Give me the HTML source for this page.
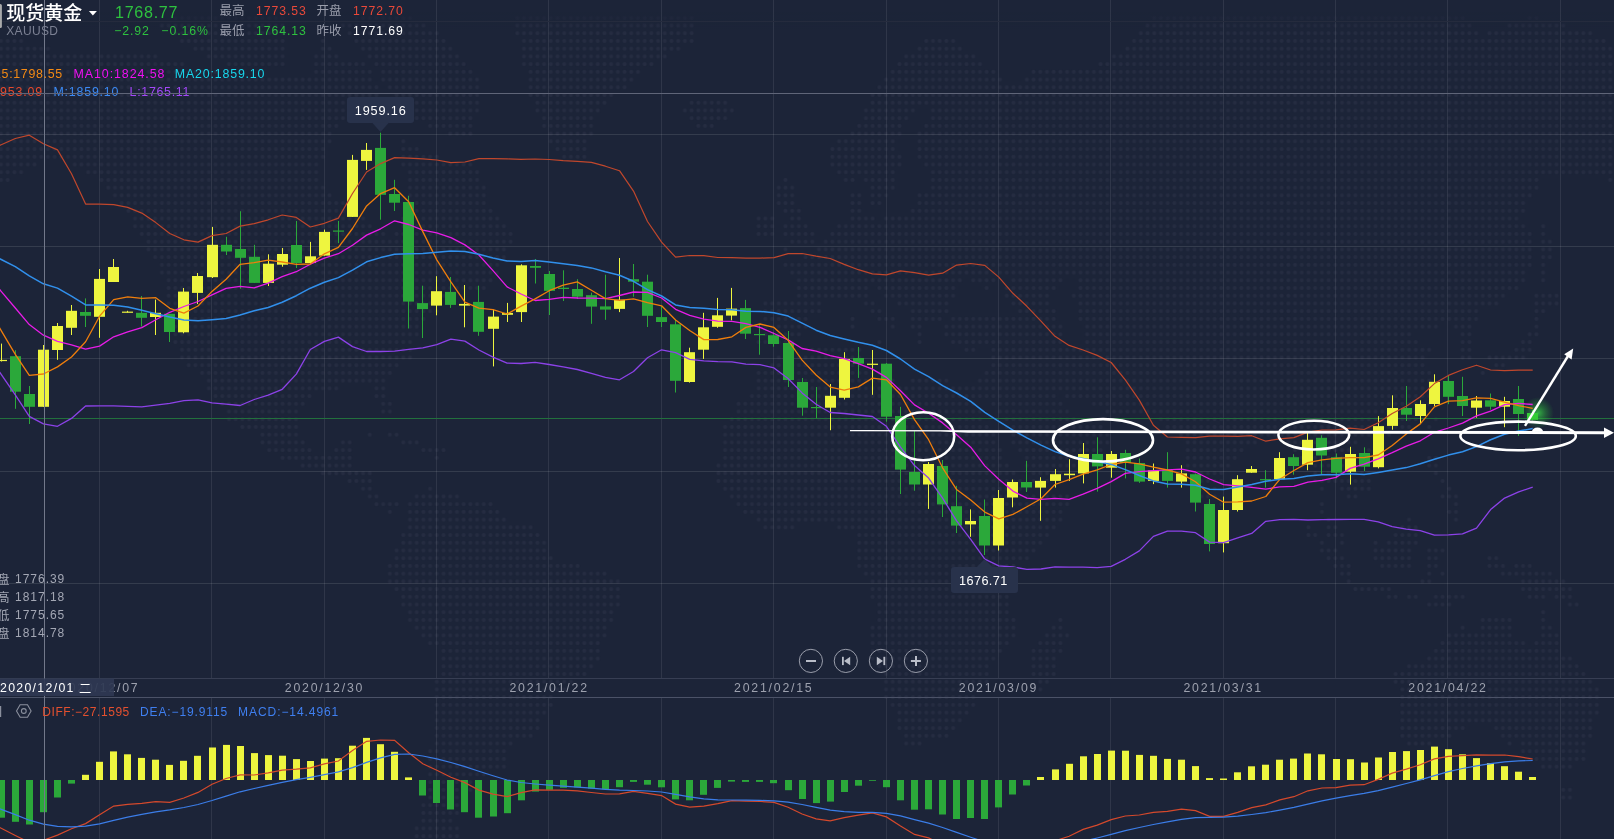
<!DOCTYPE html>
<html><head><meta charset="utf-8"><style>
html,body{margin:0;padding:0;}
body{width:1614px;height:839px;overflow:hidden;background:#1c2438;position:relative;font-family:"Liberation Sans","Noto Sans CJK SC",sans-serif;}
svg{position:absolute;left:0;top:0;will-change:transform;}
text{font-family:"Liberation Sans","Noto Sans CJK SC",sans-serif;}
.t{position:absolute;white-space:nowrap;line-height:1;}
</style></head><body>
<svg width="1614" height="839" viewBox="0 0 1614 839">
<defs><pattern id="dots" x="-2.35" y="-1.5" width="6.705" height="7.72" patternUnits="userSpaceOnUse"><circle cx="3.35" cy="3.86" r="2.0" fill="#252c41"/></pattern></defs>
<path d="M205.5 -1.5H232.3v7.72H205.5zM386.5 -1.5H393.2v7.72H386.5zM507.2 -1.5H701.7v7.72H507.2zM1231.4 -1.5H1452.6v7.72H1231.4zM185.4 6.2H286.0v7.72H185.4zM366.4 6.2H406.7v7.72H366.4zM507.2 6.2H701.7v7.72H507.2zM1157.6 6.2H1171.0v7.72H1157.6zM1224.7 6.2H1459.3v7.72H1224.7zM172.0 13.9H286.0v7.72H172.0zM353.0 13.9H413.4v7.72H353.0zM513.9 13.9H695.0v7.72H513.9zM1150.9 13.9H1466.0v7.72H1150.9zM1526.4 13.9H1539.8v7.72H1526.4zM158.6 21.7H286.0v7.72H158.6zM339.6 21.7H426.8v7.72H339.6zM513.9 21.7H695.0v7.72H513.9zM1144.2 21.7H1472.7v7.72H1144.2zM1506.3 21.7H1566.6v7.72H1506.3zM172.0 29.4H286.0v7.72H172.0zM346.3 29.4H440.2v7.72H346.3zM513.9 29.4H695.0v7.72H513.9zM1137.5 29.4H1479.4v7.72H1137.5zM1486.2 29.4H1593.4v7.72H1486.2zM-2.4 37.1H24.5v7.72H-2.4zM178.7 37.1H286.0v7.72H178.7zM319.5 37.1H326.2v7.72H319.5zM353.0 37.1H446.9v7.72H353.0zM520.6 37.1H695.0v7.72H520.6zM922.9 37.1H956.5v7.72H922.9zM1130.8 37.1H1606.8v7.72H1130.8zM-2.4 44.8H51.3v7.72H-2.4zM192.1 44.8H286.0v7.72H192.1zM319.5 44.8H332.9v7.72H319.5zM359.7 44.8H453.6v7.72H359.7zM520.6 44.8H681.6v7.72H520.6zM916.2 44.8H963.2v7.72H916.2zM1124.1 44.8H1620.3v7.72H1124.1zM-2.4 52.5H158.6v7.72H-2.4zM205.5 52.5H286.0v7.72H205.5zM312.8 52.5H339.6v7.72H312.8zM366.4 52.5H460.3v7.72H366.4zM520.6 52.5H668.1v7.72H520.6zM902.8 52.5H976.6v7.72H902.8zM1110.7 52.5H1620.3v7.72H1110.7zM-2.4 60.3H185.4v7.72H-2.4zM225.6 60.3H286.0v7.72H225.6zM312.8 60.3H366.4v7.72H312.8zM373.1 60.3H467.0v7.72H373.1zM520.6 60.3H654.7v7.72H520.6zM896.1 60.3H983.3v7.72H896.1zM1097.3 60.3H1620.3v7.72H1097.3zM-2.4 68.0H218.9v7.72H-2.4zM312.8 68.0H373.1v7.72H312.8zM379.8 68.0H473.7v7.72H379.8zM527.3 68.0H641.3v7.72H527.3zM889.4 68.0H996.7v7.72H889.4zM1030.2 68.0H1620.3v7.72H1030.2zM-2.4 75.7H373.1v7.72H-2.4zM379.8 75.7H480.4v7.72H379.8zM527.3 75.7H634.6v7.72H527.3zM882.7 75.7H1003.4v7.72H882.7zM1023.5 75.7H1620.3v7.72H1023.5zM-2.4 83.4H379.8v7.72H-2.4zM386.5 83.4H480.4v7.72H386.5zM527.3 83.4H627.9v7.72H527.3zM876.0 83.4H1620.3v7.72H876.0zM-2.4 91.1H379.8v7.72H-2.4zM393.2 91.1H480.4v7.72H393.2zM527.3 91.1H614.5v7.72H527.3zM869.3 91.1H1620.3v7.72H869.3zM-2.4 98.9H373.1v7.72H-2.4zM393.2 98.9H480.4v7.72H393.2zM534.0 98.9H607.8v7.72H534.0zM688.3 98.9H728.5v7.72H688.3zM869.3 98.9H1620.3v7.72H869.3zM-2.4 106.6H366.4v7.72H-2.4zM399.9 106.6H480.4v7.72H399.9zM534.0 106.6H601.1v7.72H534.0zM681.6 106.6H735.2v7.72H681.6zM862.6 106.6H916.2v7.72H862.6zM929.6 106.6H1620.3v7.72H929.6zM-2.4 114.3H359.7v7.72H-2.4zM413.4 114.3H473.7v7.72H413.4zM540.8 114.3H594.4v7.72H540.8zM688.3 114.3H728.5v7.72H688.3zM862.6 114.3H909.5v7.72H862.6zM929.6 114.3H1620.3v7.72H929.6zM-2.4 122.0H339.6v7.72H-2.4zM426.8 122.0H473.7v7.72H426.8zM540.8 122.0H594.4v7.72H540.8zM695.0 122.0H715.1v7.72H695.0zM855.9 122.0H902.8v7.72H855.9zM922.9 122.0H1620.3v7.72H922.9zM-2.4 129.7H332.9v7.72H-2.4zM446.9 129.7H473.7v7.72H446.9zM547.5 129.7H594.4v7.72H547.5zM849.2 129.7H902.8v7.72H849.2zM916.2 129.7H1620.3v7.72H916.2zM-2.4 137.5H332.9v7.72H-2.4zM399.9 137.5H406.7v7.72H399.9zM547.5 137.5H587.7v7.72H547.5zM835.8 137.5H896.1v7.72H835.8zM916.2 137.5H1620.3v7.72H916.2zM-2.4 145.2H326.2v7.72H-2.4zM399.9 145.2H420.1v7.72H399.9zM554.2 145.2H587.7v7.72H554.2zM829.1 145.2H896.1v7.72H829.1zM916.2 145.2H1620.3v7.72H916.2zM-2.4 152.9H326.2v7.72H-2.4zM399.9 152.9H440.2v7.72H399.9zM560.9 152.9H587.7v7.72H560.9zM829.1 152.9H902.8v7.72H829.1zM916.2 152.9H1620.3v7.72H916.2zM-2.4 160.6H37.9v7.72H-2.4zM71.4 160.6H319.5v7.72H71.4zM399.9 160.6H473.7v7.72H399.9zM829.1 160.6H902.8v7.72H829.1zM922.9 160.6H1620.3v7.72H922.9zM-2.4 168.3H24.5v7.72H-2.4zM84.8 168.3H319.5v7.72H84.8zM406.7 168.3H480.4v7.72H406.7zM835.8 168.3H896.1v7.72H835.8zM929.6 168.3H1620.3v7.72H929.6zM-2.4 176.1H11.1v7.72H-2.4zM98.2 176.1H319.5v7.72H98.2zM406.7 176.1H480.4v7.72H406.7zM782.1 176.1H788.8v7.72H782.1zM842.5 176.1H855.9v7.72H842.5zM862.6 176.1H896.1v7.72H862.6zM929.6 176.1H1539.8v7.72H929.6zM1606.9 176.1H1620.3v7.72H1606.9zM104.9 183.8H326.2v7.72H104.9zM406.7 183.8H487.1v7.72H406.7zM775.4 183.8H795.5v7.72H775.4zM869.3 183.8H896.1v7.72H869.3zM929.6 183.8H1539.8v7.72H929.6zM1613.6 183.8H1620.3v7.72H1613.6zM111.6 191.5H332.9v7.72H111.6zM406.7 191.5H487.1v7.72H406.7zM775.4 191.5H795.5v7.72H775.4zM849.2 191.5H862.6v7.72H849.2zM869.3 191.5H889.4v7.72H869.3zM916.2 191.5H1533.1v7.72H916.2zM1613.6 191.5H1620.3v7.72H1613.6zM118.3 199.2H346.3v7.72H118.3zM406.7 199.2H487.1v7.72H406.7zM775.4 199.2H795.5v7.72H775.4zM849.2 199.2H862.6v7.72H849.2zM869.3 199.2H882.7v7.72H869.3zM916.2 199.2H1526.4v7.72H916.2zM1613.6 199.2H1620.3v7.72H1613.6zM125.0 206.9H359.7v7.72H125.0zM406.7 206.9H493.8v7.72H406.7zM782.1 206.9H802.2v7.72H782.1zM849.2 206.9H862.6v7.72H849.2zM909.5 206.9H1526.4v7.72H909.5zM1613.6 206.9H1620.3v7.72H1613.6zM131.8 214.7H366.4v7.72H131.8zM399.9 214.7H500.5v7.72H399.9zM755.3 214.7H775.4v7.72H755.3zM788.8 214.7H802.2v7.72H788.8zM849.2 214.7H876.0v7.72H849.2zM882.7 214.7H1519.7v7.72H882.7zM1613.6 214.7H1620.3v7.72H1613.6zM131.8 222.4H373.1v7.72H131.8zM399.9 222.4H507.2v7.72H399.9zM755.3 222.4H775.4v7.72H755.3zM782.1 222.4H809.0v7.72H782.1zM835.8 222.4H1526.4v7.72H835.8zM1539.8 222.4H1546.5v7.72H1539.8zM1613.6 222.4H1620.3v7.72H1613.6zM138.5 230.1H386.5v7.72H138.5zM393.2 230.1H513.9v7.72H393.2zM755.3 230.1H775.4v7.72H755.3zM782.1 230.1H815.7v7.72H782.1zM829.1 230.1H1533.1v7.72H829.1zM1539.8 230.1H1546.5v7.72H1539.8zM1613.6 230.1H1620.3v7.72H1613.6zM145.2 237.8H513.9v7.72H145.2zM788.8 237.8H815.7v7.72H788.8zM822.4 237.8H1533.1v7.72H822.4zM1539.8 237.8H1553.2v7.72H1539.8zM1613.6 237.8H1620.3v7.72H1613.6zM145.2 245.5H507.2v7.72H145.2zM782.1 245.5H788.8v7.72H782.1zM815.7 245.5H1533.1v7.72H815.7zM1539.8 245.5H1553.2v7.72H1539.8zM151.9 253.3H507.2v7.72H151.9zM802.2 253.3H1533.1v7.72H802.2zM1539.8 253.3H1553.2v7.72H1539.8zM158.6 261.0H500.5v7.72H158.6zM782.1 261.0H1533.1v7.72H782.1zM1539.8 261.0H1546.5v7.72H1539.8zM158.6 268.7H500.5v7.72H158.6zM788.8 268.7H1526.4v7.72H788.8zM1539.8 268.7H1546.5v7.72H1539.8zM165.3 276.4H493.8v7.72H165.3zM795.5 276.4H963.2v7.72H795.5zM969.9 276.4H996.7v7.72H969.9zM1010.1 276.4H1063.7v7.72H1010.1zM1077.2 276.4H1526.4v7.72H1077.2zM1539.8 276.4H1546.5v7.72H1539.8zM165.3 284.1H487.1v7.72H165.3zM795.5 284.1H869.3v7.72H795.5zM876.0 284.1H956.5v7.72H876.0zM983.3 284.1H990.0v7.72H983.3zM1003.4 284.1H1057.0v7.72H1003.4zM1077.2 284.1H1519.7v7.72H1077.2zM165.3 291.9H453.6v7.72H165.3zM795.5 291.9H869.3v7.72H795.5zM882.7 291.9H956.5v7.72H882.7zM1003.4 291.9H1050.3v7.72H1003.4zM1070.5 291.9H1506.3v7.72H1070.5zM1533.1 291.9H1559.9v7.72H1533.1zM165.3 299.6H440.2v7.72H165.3zM762.0 299.6H822.4v7.72H762.0zM862.6 299.6H876.0v7.72H862.6zM896.1 299.6H949.8v7.72H896.1zM1010.1 299.6H1050.3v7.72H1010.1zM1077.2 299.6H1499.6v7.72H1077.2zM1533.1 299.6H1559.9v7.72H1533.1zM165.3 307.3H440.2v7.72H165.3zM762.0 307.3H822.4v7.72H762.0zM869.3 307.3H882.7v7.72H869.3zM909.5 307.3H949.8v7.72H909.5zM1016.8 307.3H1057.0v7.72H1016.8zM1077.2 307.3H1479.4v7.72H1077.2zM1533.1 307.3H1546.5v7.72H1533.1zM165.3 315.0H426.8v7.72H165.3zM762.0 315.0H809.0v7.72H762.0zM849.2 315.0H855.9v7.72H849.2zM876.0 315.0H896.1v7.72H876.0zM909.5 315.0H943.1v7.72H909.5zM949.8 315.0H1057.0v7.72H949.8zM1077.2 315.0H1479.4v7.72H1077.2zM1533.1 315.0H1539.8v7.72H1533.1zM165.3 322.7H420.1v7.72H165.3zM762.0 322.7H809.0v7.72H762.0zM849.2 322.7H855.9v7.72H849.2zM889.4 322.7H896.1v7.72H889.4zM909.5 322.7H922.9v7.72H909.5zM943.1 322.7H1063.7v7.72H943.1zM1083.9 322.7H1439.2v7.72H1083.9zM1452.6 322.7H1472.7v7.72H1452.6zM1533.1 322.7H1539.8v7.72H1533.1zM172.0 330.5H420.1v7.72H172.0zM762.0 330.5H802.2v7.72H762.0zM916.2 330.5H922.9v7.72H916.2zM943.1 330.5H1063.7v7.72H943.1zM1083.9 330.5H1412.4v7.72H1083.9zM1459.3 330.5H1472.7v7.72H1459.3zM1526.4 330.5H1539.8v7.72H1526.4zM172.0 338.2H413.4v7.72H172.0zM755.3 338.2H795.5v7.72H755.3zM876.0 338.2H882.7v7.72H876.0zM916.2 338.2H922.9v7.72H916.2zM949.8 338.2H1063.7v7.72H949.8zM1083.9 338.2H1419.1v7.72H1083.9zM1459.3 338.2H1472.7v7.72H1459.3zM1519.7 338.2H1533.1v7.72H1519.7zM178.7 345.9H413.4v7.72H178.7zM809.0 345.9H862.6v7.72H809.0zM963.2 345.9H976.6v7.72H963.2zM990.0 345.9H1432.5v7.72H990.0zM1459.3 345.9H1472.7v7.72H1459.3zM1513.0 345.9H1533.1v7.72H1513.0zM178.7 353.6H413.4v7.72H178.7zM775.4 353.6H862.6v7.72H775.4zM990.0 353.6H1425.8v7.72H990.0zM1459.3 353.6H1472.7v7.72H1459.3zM1486.2 353.6H1526.4v7.72H1486.2zM185.4 361.3H399.9v7.72H185.4zM768.7 361.3H862.6v7.72H768.7zM990.0 361.3H1425.8v7.72H990.0zM1492.9 361.3H1506.3v7.72H1492.9zM198.8 369.1H393.2v7.72H198.8zM755.3 369.1H882.7v7.72H755.3zM983.3 369.1H1432.5v7.72H983.3zM1479.5 369.1H1486.2v7.72H1479.5zM205.5 376.8H386.5v7.72H205.5zM755.3 376.8H896.1v7.72H755.3zM909.5 376.8H949.8v7.72H909.5zM976.6 376.8H1432.5v7.72H976.6zM205.5 384.5H339.6v7.72H205.5zM373.1 384.5H386.5v7.72H373.1zM755.3 384.5H1439.2v7.72H755.3zM212.2 392.2H312.8v7.72H212.2zM373.1 392.2H386.5v7.72H373.1zM748.6 392.2H1057.0v7.72H748.6zM1063.7 392.2H1432.5v7.72H1063.7zM218.9 399.9H306.1v7.72H218.9zM379.8 399.9H393.2v7.72H379.8zM735.2 399.9H976.6v7.72H735.2zM990.0 399.9H1063.7v7.72H990.0zM1090.6 399.9H1432.5v7.72H1090.6zM225.6 407.7H299.4v7.72H225.6zM379.8 407.7H393.2v7.72H379.8zM735.2 407.7H983.3v7.72H735.2zM996.7 407.7H1070.4v7.72H996.7zM1104.0 407.7H1425.8v7.72H1104.0zM225.6 415.4H299.4v7.72H225.6zM728.5 415.4H983.3v7.72H728.5zM1003.4 415.4H1077.1v7.72H1003.4zM1157.6 415.4H1419.1v7.72H1157.6zM1432.5 415.4H1439.2v7.72H1432.5zM239.0 423.1H299.4v7.72H239.0zM721.8 423.1H990.0v7.72H721.8zM1003.4 423.1H1104.0v7.72H1003.4zM1164.3 423.1H1412.4v7.72H1164.3zM1425.8 423.1H1432.5v7.72H1425.8zM259.1 430.8H299.4v7.72H259.1zM366.4 430.8H373.1v7.72H366.4zM386.5 430.8H399.9v7.72H386.5zM721.8 430.8H996.7v7.72H721.8zM1010.1 430.8H1110.7v7.72H1010.1zM1177.7 430.8H1392.3v7.72H1177.7zM259.1 438.5H306.1v7.72H259.1zM339.6 438.5H353.0v7.72H339.6zM399.9 438.5H420.1v7.72H399.9zM721.8 438.5H996.7v7.72H721.8zM1010.1 438.5H1110.7v7.72H1010.1zM1184.4 438.5H1258.2v7.72H1184.4zM1285.0 438.5H1358.8v7.72H1285.0zM265.8 446.3H312.8v7.72H265.8zM332.9 446.3H353.0v7.72H332.9zM420.1 446.3H446.9v7.72H420.1zM721.8 446.3H1003.4v7.72H721.8zM1016.8 446.3H1104.0v7.72H1016.8zM1184.4 446.3H1244.8v7.72H1184.4zM1291.7 446.3H1352.1v7.72H1291.7zM1365.5 446.3H1378.9v7.72H1365.5zM279.3 454.0H353.0v7.72H279.3zM433.5 454.0H440.2v7.72H433.5zM721.8 454.0H1003.4v7.72H721.8zM1023.5 454.0H1097.3v7.72H1023.5zM1184.4 454.0H1238.1v7.72H1184.4zM1291.7 454.0H1358.8v7.72H1291.7zM1425.8 454.0H1439.2v7.72H1425.8zM299.4 461.7H353.0v7.72H299.4zM715.1 461.7H1010.1v7.72H715.1zM1023.5 461.7H1083.9v7.72H1023.5zM1184.4 461.7H1231.4v7.72H1184.4zM1291.7 461.7H1305.1v7.72H1291.7zM1311.8 461.7H1365.5v7.72H1311.8zM1425.8 461.7H1439.2v7.72H1425.8zM319.5 469.4H373.1v7.72H319.5zM715.1 469.4H1016.8v7.72H715.1zM1030.2 469.4H1063.7v7.72H1030.2zM1191.1 469.4H1224.7v7.72H1191.1zM1311.8 469.4H1372.2v7.72H1311.8zM1432.5 469.4H1439.2v7.72H1432.5zM346.3 477.1H373.1v7.72H346.3zM715.1 477.1H1023.5v7.72H715.1zM1030.2 477.1H1050.3v7.72H1030.2zM1191.1 477.1H1224.7v7.72H1191.1zM1311.8 477.1H1372.2v7.72H1311.8zM1439.2 477.1H1445.9v7.72H1439.2zM359.7 484.9H373.1v7.72H359.7zM426.8 484.9H433.5v7.72H426.8zM721.8 484.9H1030.2v7.72H721.8zM1197.8 484.9H1218.0v7.72H1197.8zM1318.5 484.9H1325.2v7.72H1318.5zM1338.7 484.9H1372.2v7.72H1338.7zM1445.9 484.9H1452.6v7.72H1445.9zM366.4 492.6H379.8v7.72H366.4zM413.4 492.6H460.3v7.72H413.4zM728.5 492.6H1036.9v7.72H728.5zM1043.6 492.6H1070.4v7.72H1043.6zM1197.8 492.6H1218.0v7.72H1197.8zM1345.4 492.6H1358.8v7.72H1345.4zM1439.2 492.6H1459.3v7.72H1439.2zM373.1 500.3H399.9v7.72H373.1zM406.7 500.3H493.8v7.72H406.7zM735.2 500.3H1070.4v7.72H735.2zM1204.6 500.3H1211.2v7.72H1204.6zM1218.0 500.3H1224.7v7.72H1218.0zM1318.5 500.3H1325.2v7.72H1318.5zM1452.6 500.3H1459.3v7.72H1452.6zM386.5 508.0H393.2v7.72H386.5zM406.7 508.0H500.5v7.72H406.7zM741.9 508.0H1063.7v7.72H741.9zM1218.0 508.0H1231.4v7.72H1218.0zM1318.5 508.0H1325.2v7.72H1318.5zM1445.9 508.0H1459.3v7.72H1445.9zM406.7 515.7H507.2v7.72H406.7zM755.3 515.7H1063.7v7.72H755.3zM1325.2 515.7H1331.9v7.72H1325.2zM1405.7 515.7H1412.4v7.72H1405.7zM1452.6 515.7H1459.3v7.72H1452.6zM406.7 523.5H534.0v7.72H406.7zM762.0 523.5H795.5v7.72H762.0zM835.8 523.5H1057.0v7.72H835.8zM1305.1 523.5H1311.8v7.72H1305.1zM1325.2 523.5H1338.6v7.72H1325.2zM1399.0 523.5H1419.1v7.72H1399.0zM399.9 531.2H540.8v7.72H399.9zM855.9 531.2H1050.3v7.72H855.9zM1305.1 531.2H1318.5v7.72H1305.1zM1325.2 531.2H1345.3v7.72H1325.2zM1392.3 531.2H1419.1v7.72H1392.3zM399.9 538.9H547.5v7.72H399.9zM855.9 538.9H1043.6v7.72H855.9zM1318.5 538.9H1325.2v7.72H1318.5zM1338.7 538.9H1345.3v7.72H1338.7zM1372.2 538.9H1378.9v7.72H1372.2zM1385.6 538.9H1419.1v7.72H1385.6zM393.2 546.6H547.5v7.72H393.2zM855.9 546.6H1036.9v7.72H855.9zM1318.5 546.6H1338.6v7.72H1318.5zM1372.2 546.6H1412.4v7.72H1372.2zM1425.8 546.6H1445.9v7.72H1425.8zM393.2 554.3H554.2v7.72H393.2zM855.9 554.3H1030.2v7.72H855.9zM1325.2 554.3H1345.3v7.72H1325.2zM1372.2 554.3H1412.4v7.72H1372.2zM1425.8 554.3H1439.2v7.72H1425.8zM1486.2 554.3H1499.6v7.72H1486.2zM386.5 562.1H581.0v7.72H386.5zM855.9 562.1H1016.8v7.72H855.9zM1331.9 562.1H1352.1v7.72H1331.9zM1378.9 562.1H1412.4v7.72H1378.9zM1425.8 562.1H1439.2v7.72H1425.8zM1486.2 562.1H1506.3v7.72H1486.2zM1513.0 562.1H1533.1v7.72H1513.0zM386.5 569.8H607.8v7.72H386.5zM862.6 569.8H1010.1v7.72H862.6zM1338.7 569.8H1352.1v7.72H1338.7zM1425.8 569.8H1432.5v7.72H1425.8zM1439.2 569.8H1445.9v7.72H1439.2zM1499.6 569.8H1553.2v7.72H1499.6zM386.5 577.5H621.2v7.72H386.5zM869.3 577.5H1010.1v7.72H869.3zM1345.4 577.5H1352.1v7.72H1345.4zM1419.1 577.5H1432.5v7.72H1419.1zM1519.7 577.5H1566.6v7.72H1519.7zM393.2 585.2H621.2v7.72H393.2zM869.3 585.2H1010.1v7.72H869.3zM1352.1 585.2H1392.3v7.72H1352.1zM1519.7 585.2H1573.3v7.72H1519.7zM399.9 592.9H621.2v7.72H399.9zM869.3 592.9H1010.1v7.72H869.3zM1385.6 592.9H1399.0v7.72H1385.6zM1405.7 592.9H1419.1v7.72H1405.7zM1432.5 592.9H1466.0v7.72H1432.5zM1526.4 592.9H1546.5v7.72H1526.4zM1553.2 592.9H1573.3v7.72H1553.2zM399.9 600.7H621.2v7.72H399.9zM876.0 600.7H1010.1v7.72H876.0zM1425.8 600.7H1452.6v7.72H1425.8zM1566.6 600.7H1580.0v7.72H1566.6zM406.7 608.4H614.5v7.72H406.7zM876.0 608.4H1010.1v7.72H876.0zM1539.8 608.4H1546.5v7.72H1539.8zM406.7 616.1H614.5v7.72H406.7zM876.0 616.1H1016.8v7.72H876.0zM1057.0 616.1H1063.7v7.72H1057.0zM1479.5 616.1H1513.0v7.72H1479.5zM1539.8 616.1H1546.5v7.72H1539.8zM413.4 623.8H607.8v7.72H413.4zM869.3 623.8H1016.8v7.72H869.3zM1050.3 623.8H1063.7v7.72H1050.3zM1459.3 623.8H1466.0v7.72H1459.3zM1479.5 623.8H1513.0v7.72H1479.5zM1539.8 623.8H1553.2v7.72H1539.8zM420.1 631.5H607.8v7.72H420.1zM869.3 631.5H1016.8v7.72H869.3zM1043.6 631.5H1070.4v7.72H1043.6zM1445.9 631.5H1513.0v7.72H1445.9zM1539.8 631.5H1559.9v7.72H1539.8zM426.8 639.3H601.1v7.72H426.8zM869.3 639.3H1010.1v7.72H869.3zM1036.9 639.3H1063.7v7.72H1036.9zM1439.2 639.3H1526.4v7.72H1439.2zM1533.1 639.3H1559.9v7.72H1533.1zM440.2 647.0H601.1v7.72H440.2zM869.3 647.0H1003.4v7.72H869.3zM1030.2 647.0H1063.7v7.72H1030.2zM1432.5 647.0H1559.9v7.72H1432.5zM440.2 654.7H601.1v7.72H440.2zM869.3 654.7H996.7v7.72H869.3zM1030.2 654.7H1057.0v7.72H1030.2zM1425.8 654.7H1573.3v7.72H1425.8zM440.2 662.4H594.4v7.72H440.2zM876.0 662.4H990.0v7.72H876.0zM1030.2 662.4H1057.0v7.72H1030.2zM1405.7 662.4H1580.0v7.72H1405.7zM440.2 670.1H587.7v7.72H440.2zM882.7 670.1H990.0v7.72H882.7zM1030.2 670.1H1057.0v7.72H1030.2zM1392.3 670.1H1586.7v7.72H1392.3zM433.5 677.9H574.3v7.72H433.5zM882.7 677.9H990.0v7.72H882.7zM1036.9 677.9H1050.3v7.72H1036.9zM1392.3 677.9H1593.4v7.72H1392.3zM433.5 685.6H567.6v7.72H433.5zM882.7 685.6H983.3v7.72H882.7zM1036.9 685.6H1043.6v7.72H1036.9zM1399.0 685.6H1600.1v7.72H1399.0zM433.5 693.3H554.2v7.72H433.5zM882.7 693.3H976.6v7.72H882.7zM1399.0 693.3H1600.1v7.72H1399.0zM433.5 701.0H554.2v7.72H433.5zM889.4 701.0H976.6v7.72H889.4zM1399.0 701.0H1600.1v7.72H1399.0zM433.5 708.7H547.5v7.72H433.5zM896.1 708.7H969.9v7.72H896.1zM1399.0 708.7H1600.1v7.72H1399.0zM433.5 716.5H540.8v7.72H433.5zM896.1 716.5H963.2v7.72H896.1zM1399.0 716.5H1593.4v7.72H1399.0zM433.5 724.2H540.8v7.72H433.5zM896.1 724.2H956.5v7.72H896.1zM1399.0 724.2H1466.0v7.72H1399.0zM1492.9 724.2H1593.4v7.72H1492.9zM433.5 731.9H534.0v7.72H433.5zM902.8 731.9H949.8v7.72H902.8zM1399.0 731.9H1452.6v7.72H1399.0zM1499.6 731.9H1593.4v7.72H1499.6zM433.5 739.6H513.9v7.72H433.5zM902.8 739.6H922.9v7.72H902.8zM1405.7 739.6H1432.5v7.72H1405.7zM1506.3 739.6H1513.0v7.72H1506.3zM1519.7 739.6H1586.7v7.72H1519.7zM426.8 747.3H507.2v7.72H426.8zM1519.7 747.3H1586.7v7.72H1519.7zM426.8 755.1H507.2v7.72H426.8zM1526.4 755.1H1586.7v7.72H1526.4zM426.8 762.8H507.2v7.72H426.8zM1539.8 762.8H1573.3v7.72H1539.8zM426.8 770.5H487.1v7.72H426.8zM426.8 778.2H480.4v7.72H426.8zM426.8 785.9H473.7v7.72H426.8zM1559.9 785.9H1573.3v7.72H1559.9zM426.8 793.7H467.0v7.72H426.8zM1559.9 793.7H1573.3v7.72H1559.9zM420.1 801.4H467.0v7.72H420.1zM420.1 809.1H460.3v7.72H420.1zM420.1 816.8H453.6v7.72H420.1zM413.4 824.5H460.3v7.72H413.4zM413.4 832.3H460.3v7.72H413.4zM413.4 840.0H460.3v7.72H413.4z" fill="url(#dots)"/>
<defs><linearGradient id="topfade" x1="0" y1="0" x2="0" y2="1"><stop offset="0" stop-color="#1c2438" stop-opacity="1"/><stop offset="0.4" stop-color="#1c2438" stop-opacity="1"/><stop offset="1" stop-color="#1c2438" stop-opacity="0"/></linearGradient></defs>
<rect x="0" y="0" width="1614" height="30" fill="url(#topfade)"/>
<line x1="99.5" y1="0" x2="99.5" y2="678" stroke="#ffffff" stroke-opacity="0.085" stroke-width="1"/>
<line x1="99.5" y1="698" x2="99.5" y2="839" stroke="#ffffff" stroke-opacity="0.085" stroke-width="1"/>
<line x1="211.5" y1="0" x2="211.5" y2="678" stroke="#ffffff" stroke-opacity="0.085" stroke-width="1"/>
<line x1="211.5" y1="698" x2="211.5" y2="839" stroke="#ffffff" stroke-opacity="0.085" stroke-width="1"/>
<line x1="324.5" y1="0" x2="324.5" y2="678" stroke="#ffffff" stroke-opacity="0.085" stroke-width="1"/>
<line x1="324.5" y1="698" x2="324.5" y2="839" stroke="#ffffff" stroke-opacity="0.085" stroke-width="1"/>
<line x1="436.5" y1="0" x2="436.5" y2="678" stroke="#ffffff" stroke-opacity="0.085" stroke-width="1"/>
<line x1="436.5" y1="698" x2="436.5" y2="839" stroke="#ffffff" stroke-opacity="0.085" stroke-width="1"/>
<line x1="548.5" y1="0" x2="548.5" y2="678" stroke="#ffffff" stroke-opacity="0.085" stroke-width="1"/>
<line x1="548.5" y1="698" x2="548.5" y2="839" stroke="#ffffff" stroke-opacity="0.085" stroke-width="1"/>
<line x1="661.5" y1="0" x2="661.5" y2="678" stroke="#ffffff" stroke-opacity="0.085" stroke-width="1"/>
<line x1="661.5" y1="698" x2="661.5" y2="839" stroke="#ffffff" stroke-opacity="0.085" stroke-width="1"/>
<line x1="773.5" y1="0" x2="773.5" y2="678" stroke="#ffffff" stroke-opacity="0.085" stroke-width="1"/>
<line x1="773.5" y1="698" x2="773.5" y2="839" stroke="#ffffff" stroke-opacity="0.085" stroke-width="1"/>
<line x1="886.5" y1="0" x2="886.5" y2="678" stroke="#ffffff" stroke-opacity="0.085" stroke-width="1"/>
<line x1="886.5" y1="698" x2="886.5" y2="839" stroke="#ffffff" stroke-opacity="0.085" stroke-width="1"/>
<line x1="998.5" y1="0" x2="998.5" y2="678" stroke="#ffffff" stroke-opacity="0.085" stroke-width="1"/>
<line x1="998.5" y1="698" x2="998.5" y2="839" stroke="#ffffff" stroke-opacity="0.085" stroke-width="1"/>
<line x1="1110.5" y1="0" x2="1110.5" y2="678" stroke="#ffffff" stroke-opacity="0.085" stroke-width="1"/>
<line x1="1110.5" y1="698" x2="1110.5" y2="839" stroke="#ffffff" stroke-opacity="0.085" stroke-width="1"/>
<line x1="1223.5" y1="0" x2="1223.5" y2="678" stroke="#ffffff" stroke-opacity="0.085" stroke-width="1"/>
<line x1="1223.5" y1="698" x2="1223.5" y2="839" stroke="#ffffff" stroke-opacity="0.085" stroke-width="1"/>
<line x1="1335.5" y1="0" x2="1335.5" y2="678" stroke="#ffffff" stroke-opacity="0.085" stroke-width="1"/>
<line x1="1335.5" y1="698" x2="1335.5" y2="839" stroke="#ffffff" stroke-opacity="0.085" stroke-width="1"/>
<line x1="1447.5" y1="0" x2="1447.5" y2="678" stroke="#ffffff" stroke-opacity="0.085" stroke-width="1"/>
<line x1="1447.5" y1="698" x2="1447.5" y2="839" stroke="#ffffff" stroke-opacity="0.085" stroke-width="1"/>
<line x1="1560.5" y1="0" x2="1560.5" y2="678" stroke="#ffffff" stroke-opacity="0.085" stroke-width="1"/>
<line x1="1560.5" y1="698" x2="1560.5" y2="839" stroke="#ffffff" stroke-opacity="0.085" stroke-width="1"/>
<line x1="0" y1="21.5" x2="1614" y2="21.5" stroke="#252b3d" stroke-width="1"/>
<line x1="0" y1="134.5" x2="1614" y2="134.5" stroke="#ffffff" stroke-opacity="0.11" stroke-width="1"/>
<line x1="0" y1="246.5" x2="1614" y2="246.5" stroke="#ffffff" stroke-opacity="0.11" stroke-width="1"/>
<line x1="0" y1="358.5" x2="1614" y2="358.5" stroke="#ffffff" stroke-opacity="0.11" stroke-width="1"/>
<line x1="0" y1="471.5" x2="1614" y2="471.5" stroke="#ffffff" stroke-opacity="0.11" stroke-width="1"/>
<line x1="0" y1="583.5" x2="1614" y2="583.5" stroke="#ffffff" stroke-opacity="0.11" stroke-width="1"/>
<line x1="0" y1="678.5" x2="1614" y2="678.5" stroke="#373e53" stroke-width="1"/>
<line x1="0" y1="697.5" x2="1614" y2="697.5" stroke="#4b5267" stroke-width="1"/>
<line x1="0" y1="418.5" x2="1614" y2="418.5" stroke="#22703d" stroke-width="1"/>
<defs><radialGradient id="glow"><stop offset="0" stop-color="#3be04a" stop-opacity="0.75"/><stop offset="0.5" stop-color="#2fc43c" stop-opacity="0.35"/><stop offset="1" stop-color="#2ba83a" stop-opacity="0"/></radialGradient></defs>
<circle cx="1538" cy="413" r="16" fill="url(#glow)"/>
<rect x="1" y="343.6" width="1" height="17.9" fill="#eef53f"/>
<rect x="-4" y="359.9" width="11" height="1.2" fill="#eef53f"/>
<rect x="15" y="350.2" width="1" height="58.6" fill="#2ba83a"/>
<rect x="10" y="356.2" width="11" height="35.5" fill="#2ba83a"/>
<rect x="29" y="386.0" width="1" height="38.0" fill="#2ba83a"/>
<rect x="24" y="394.0" width="11" height="12.8" fill="#2ba83a"/>
<rect x="43" y="345.0" width="1" height="61.8" fill="#eef53f"/>
<rect x="38" y="349.7" width="11" height="57.1" fill="#eef53f"/>
<rect x="57" y="323.0" width="1" height="36.8" fill="#eef53f"/>
<rect x="52" y="326.0" width="11" height="24.0" fill="#eef53f"/>
<rect x="71" y="305.0" width="1" height="30.0" fill="#eef53f"/>
<rect x="66" y="310.8" width="11" height="17.0" fill="#eef53f"/>
<rect x="85" y="298.4" width="1" height="28.6" fill="#2ba83a"/>
<rect x="80" y="312.0" width="11" height="3.8" fill="#2ba83a"/>
<rect x="99" y="269.0" width="1" height="68.8" fill="#eef53f"/>
<rect x="94" y="278.9" width="11" height="37.9" fill="#eef53f"/>
<rect x="113" y="259.0" width="1" height="23.0" fill="#eef53f"/>
<rect x="108" y="267.0" width="11" height="15.0" fill="#eef53f"/>
<rect x="127" y="310.8" width="1" height="1.7" fill="#eef53f"/>
<rect x="122" y="311.6" width="11" height="1.2" fill="#eef53f"/>
<rect x="141" y="296.0" width="1" height="30.5" fill="#2ba83a"/>
<rect x="136" y="312.8" width="11" height="5.0" fill="#2ba83a"/>
<rect x="155" y="299.6" width="1" height="35.4" fill="#eef53f"/>
<rect x="150" y="312.8" width="11" height="4.2" fill="#eef53f"/>
<rect x="169" y="313.8" width="1" height="28.2" fill="#2ba83a"/>
<rect x="164" y="313.8" width="11" height="18.2" fill="#2ba83a"/>
<rect x="183" y="288.0" width="1" height="45.3" fill="#eef53f"/>
<rect x="178" y="291.6" width="11" height="40.7" fill="#eef53f"/>
<rect x="197" y="273.0" width="1" height="31.0" fill="#eef53f"/>
<rect x="192" y="276.0" width="11" height="16.9" fill="#eef53f"/>
<rect x="212" y="226.9" width="1" height="51.1" fill="#eef53f"/>
<rect x="207" y="244.8" width="11" height="32.4" fill="#eef53f"/>
<rect x="226" y="236.8" width="1" height="18.2" fill="#2ba83a"/>
<rect x="221" y="244.8" width="11" height="6.7" fill="#2ba83a"/>
<rect x="240" y="211.2" width="1" height="77.5" fill="#2ba83a"/>
<rect x="235" y="249.0" width="11" height="8.8" fill="#2ba83a"/>
<rect x="254" y="244.8" width="1" height="38.2" fill="#2ba83a"/>
<rect x="249" y="256.8" width="11" height="26.1" fill="#2ba83a"/>
<rect x="268" y="254.3" width="1" height="31.7" fill="#eef53f"/>
<rect x="263" y="263.7" width="11" height="19.2" fill="#eef53f"/>
<rect x="282" y="248.0" width="1" height="18.7" fill="#eef53f"/>
<rect x="277" y="254.0" width="11" height="10.7" fill="#eef53f"/>
<rect x="296" y="221.0" width="1" height="47.0" fill="#2ba83a"/>
<rect x="291" y="245.0" width="11" height="18.0" fill="#2ba83a"/>
<rect x="310" y="241.9" width="1" height="21.6" fill="#eef53f"/>
<rect x="305" y="256.3" width="11" height="6.7" fill="#eef53f"/>
<rect x="324" y="229.6" width="1" height="26.0" fill="#eef53f"/>
<rect x="319" y="231.9" width="11" height="23.7" fill="#eef53f"/>
<rect x="338" y="220.9" width="1" height="22.2" fill="#2ba83a"/>
<rect x="333" y="230.5" width="11" height="1.2" fill="#2ba83a"/>
<rect x="352" y="154.9" width="1" height="62.0" fill="#eef53f"/>
<rect x="347" y="159.9" width="11" height="57.0" fill="#eef53f"/>
<rect x="366" y="143.0" width="1" height="26.9" fill="#eef53f"/>
<rect x="361" y="149.9" width="11" height="11.0" fill="#eef53f"/>
<rect x="380" y="132.7" width="1" height="87.0" fill="#2ba83a"/>
<rect x="375" y="147.9" width="11" height="46.9" fill="#2ba83a"/>
<rect x="394" y="179.8" width="1" height="31.2" fill="#2ba83a"/>
<rect x="389" y="194.0" width="11" height="8.7" fill="#2ba83a"/>
<rect x="408" y="195.8" width="1" height="132.7" fill="#2ba83a"/>
<rect x="403" y="202.0" width="11" height="99.6" fill="#2ba83a"/>
<rect x="422" y="285.7" width="1" height="52.3" fill="#2ba83a"/>
<rect x="417" y="303.1" width="11" height="6.0" fill="#2ba83a"/>
<rect x="436" y="276.2" width="1" height="39.1" fill="#eef53f"/>
<rect x="431" y="291.2" width="11" height="14.4" fill="#eef53f"/>
<rect x="450" y="277.0" width="1" height="30.9" fill="#2ba83a"/>
<rect x="445" y="291.9" width="11" height="13.0" fill="#2ba83a"/>
<rect x="464" y="285.0" width="1" height="42.3" fill="#eef53f"/>
<rect x="459" y="303.9" width="11" height="1.7" fill="#eef53f"/>
<rect x="478" y="285.7" width="1" height="50.1" fill="#2ba83a"/>
<rect x="473" y="301.9" width="11" height="29.9" fill="#2ba83a"/>
<rect x="493" y="309.6" width="1" height="56.8" fill="#eef53f"/>
<rect x="488" y="316.6" width="11" height="12.2" fill="#eef53f"/>
<rect x="507" y="302.9" width="1" height="19.1" fill="#eef53f"/>
<rect x="502" y="312.9" width="11" height="1.9" fill="#eef53f"/>
<rect x="521" y="264.3" width="1" height="57.7" fill="#eef53f"/>
<rect x="516" y="265.3" width="11" height="46.8" fill="#eef53f"/>
<rect x="535" y="259.0" width="1" height="24.5" fill="#2ba83a"/>
<rect x="530" y="266.0" width="11" height="1.8" fill="#2ba83a"/>
<rect x="549" y="271.0" width="1" height="44.0" fill="#2ba83a"/>
<rect x="544" y="274.0" width="11" height="16.9" fill="#2ba83a"/>
<rect x="563" y="270.3" width="1" height="30.7" fill="#2ba83a"/>
<rect x="558" y="287.7" width="11" height="1.3" fill="#2ba83a"/>
<rect x="577" y="279.2" width="1" height="19.8" fill="#2ba83a"/>
<rect x="572" y="289.0" width="11" height="7.7" fill="#2ba83a"/>
<rect x="591" y="292.7" width="1" height="31.1" fill="#2ba83a"/>
<rect x="586" y="295.2" width="11" height="11.4" fill="#2ba83a"/>
<rect x="605" y="274.7" width="1" height="45.1" fill="#2ba83a"/>
<rect x="600" y="306.4" width="11" height="3.2" fill="#2ba83a"/>
<rect x="619" y="258.0" width="1" height="54.1" fill="#eef53f"/>
<rect x="614" y="299.7" width="11" height="9.2" fill="#eef53f"/>
<rect x="633" y="264.0" width="1" height="32.7" fill="#2ba83a"/>
<rect x="628" y="279.2" width="11" height="2.5" fill="#2ba83a"/>
<rect x="647" y="274.7" width="1" height="52.3" fill="#2ba83a"/>
<rect x="642" y="281.7" width="11" height="34.1" fill="#2ba83a"/>
<rect x="661" y="305.9" width="1" height="21.1" fill="#2ba83a"/>
<rect x="656" y="317.1" width="11" height="4.9" fill="#2ba83a"/>
<rect x="675" y="319.8" width="1" height="72.7" fill="#2ba83a"/>
<rect x="670" y="324.3" width="11" height="56.5" fill="#2ba83a"/>
<rect x="689" y="347.7" width="1" height="34.9" fill="#eef53f"/>
<rect x="684" y="352.2" width="11" height="29.8" fill="#eef53f"/>
<rect x="703" y="312.8" width="1" height="46.1" fill="#eef53f"/>
<rect x="698" y="327.3" width="11" height="22.4" fill="#eef53f"/>
<rect x="717" y="297.9" width="1" height="29.9" fill="#eef53f"/>
<rect x="712" y="315.3" width="11" height="11.5" fill="#eef53f"/>
<rect x="731" y="287.9" width="1" height="32.4" fill="#eef53f"/>
<rect x="726" y="308.6" width="11" height="7.0" fill="#eef53f"/>
<rect x="745" y="299.9" width="1" height="39.1" fill="#2ba83a"/>
<rect x="740" y="308.1" width="11" height="25.6" fill="#2ba83a"/>
<rect x="759" y="325.3" width="1" height="29.4" fill="#2ba83a"/>
<rect x="754" y="334.0" width="11" height="1.2" fill="#2ba83a"/>
<rect x="773" y="332.2" width="1" height="14.5" fill="#2ba83a"/>
<rect x="768" y="335.2" width="11" height="8.8" fill="#2ba83a"/>
<rect x="788" y="331.0" width="1" height="56.0" fill="#2ba83a"/>
<rect x="783" y="343.0" width="11" height="37.0" fill="#2ba83a"/>
<rect x="802" y="378.0" width="1" height="37.7" fill="#2ba83a"/>
<rect x="797" y="382.0" width="11" height="25.7" fill="#2ba83a"/>
<rect x="816" y="387.0" width="1" height="31.2" fill="#2ba83a"/>
<rect x="811" y="407.0" width="11" height="1.2" fill="#2ba83a"/>
<rect x="830" y="384.0" width="1" height="46.2" fill="#eef53f"/>
<rect x="825" y="395.8" width="11" height="11.9" fill="#eef53f"/>
<rect x="844" y="352.2" width="1" height="47.3" fill="#eef53f"/>
<rect x="839" y="358.9" width="11" height="38.9" fill="#eef53f"/>
<rect x="858" y="347.0" width="1" height="30.9" fill="#2ba83a"/>
<rect x="853" y="358.0" width="11" height="5.7" fill="#2ba83a"/>
<rect x="872" y="350.0" width="1" height="44.8" fill="#eef53f"/>
<rect x="867" y="363.7" width="11" height="1.2" fill="#eef53f"/>
<rect x="886" y="363.0" width="1" height="58.7" fill="#2ba83a"/>
<rect x="881" y="363.7" width="11" height="53.0" fill="#2ba83a"/>
<rect x="900" y="406.8" width="1" height="87.2" fill="#2ba83a"/>
<rect x="895" y="416.0" width="11" height="53.6" fill="#2ba83a"/>
<rect x="914" y="431.0" width="1" height="59.7" fill="#2ba83a"/>
<rect x="909" y="472.0" width="11" height="12.5" fill="#2ba83a"/>
<rect x="928" y="462.0" width="1" height="46.9" fill="#eef53f"/>
<rect x="923" y="464.0" width="11" height="20.5" fill="#eef53f"/>
<rect x="942" y="460.0" width="1" height="57.0" fill="#2ba83a"/>
<rect x="937" y="466.0" width="11" height="38.4" fill="#2ba83a"/>
<rect x="956" y="485.8" width="1" height="47.2" fill="#2ba83a"/>
<rect x="951" y="506.2" width="11" height="19.4" fill="#2ba83a"/>
<rect x="970" y="509.4" width="1" height="27.4" fill="#eef53f"/>
<rect x="965" y="521.0" width="11" height="3.4" fill="#eef53f"/>
<rect x="984" y="499.5" width="1" height="55.5" fill="#2ba83a"/>
<rect x="979" y="516.0" width="11" height="29.5" fill="#2ba83a"/>
<rect x="998" y="490.0" width="1" height="60.5" fill="#eef53f"/>
<rect x="993" y="498.0" width="11" height="47.5" fill="#eef53f"/>
<rect x="1012" y="479.5" width="1" height="27.8" fill="#eef53f"/>
<rect x="1007" y="482.0" width="11" height="15.5" fill="#eef53f"/>
<rect x="1026" y="460.8" width="1" height="31.2" fill="#2ba83a"/>
<rect x="1021" y="482.0" width="11" height="5.5" fill="#2ba83a"/>
<rect x="1040" y="477.2" width="1" height="43.6" fill="#eef53f"/>
<rect x="1035" y="480.9" width="11" height="6.7" fill="#eef53f"/>
<rect x="1055" y="469.0" width="1" height="18.6" fill="#eef53f"/>
<rect x="1050" y="474.2" width="11" height="6.7" fill="#eef53f"/>
<rect x="1069" y="459.2" width="1" height="21.7" fill="#eef53f"/>
<rect x="1064" y="473.7" width="11" height="1.5" fill="#eef53f"/>
<rect x="1083" y="443.0" width="1" height="40.4" fill="#eef53f"/>
<rect x="1078" y="454.0" width="11" height="19.4" fill="#eef53f"/>
<rect x="1097" y="437.3" width="1" height="54.3" fill="#2ba83a"/>
<rect x="1092" y="454.0" width="11" height="12.4" fill="#2ba83a"/>
<rect x="1111" y="451.0" width="1" height="26.7" fill="#eef53f"/>
<rect x="1106" y="454.0" width="11" height="13.7" fill="#eef53f"/>
<rect x="1125" y="449.8" width="1" height="28.6" fill="#2ba83a"/>
<rect x="1120" y="453.0" width="11" height="10.0" fill="#2ba83a"/>
<rect x="1139" y="458.5" width="1" height="24.4" fill="#2ba83a"/>
<rect x="1134" y="463.0" width="11" height="18.6" fill="#2ba83a"/>
<rect x="1153" y="463.5" width="1" height="20.6" fill="#eef53f"/>
<rect x="1148" y="470.4" width="11" height="10.5" fill="#eef53f"/>
<rect x="1167" y="452.2" width="1" height="35.4" fill="#2ba83a"/>
<rect x="1162" y="470.2" width="11" height="10.7" fill="#2ba83a"/>
<rect x="1181" y="465.2" width="1" height="22.4" fill="#eef53f"/>
<rect x="1176" y="473.4" width="11" height="8.2" fill="#eef53f"/>
<rect x="1195" y="473.5" width="1" height="38.0" fill="#2ba83a"/>
<rect x="1190" y="474.2" width="11" height="28.4" fill="#2ba83a"/>
<rect x="1209" y="499.0" width="1" height="52.4" fill="#2ba83a"/>
<rect x="1204" y="504.0" width="11" height="40.0" fill="#2ba83a"/>
<rect x="1223" y="496.6" width="1" height="55.8" fill="#eef53f"/>
<rect x="1218" y="510.0" width="11" height="33.2" fill="#eef53f"/>
<rect x="1237" y="475.2" width="1" height="36.3" fill="#eef53f"/>
<rect x="1232" y="479.2" width="11" height="30.8" fill="#eef53f"/>
<rect x="1251" y="466.0" width="1" height="6.7" fill="#eef53f"/>
<rect x="1246" y="469.0" width="11" height="3.7" fill="#eef53f"/>
<rect x="1265" y="470.2" width="1" height="17.4" fill="#2ba83a"/>
<rect x="1260" y="479.1" width="11" height="1.2" fill="#2ba83a"/>
<rect x="1279" y="452.2" width="1" height="27.0" fill="#eef53f"/>
<rect x="1274" y="458.0" width="11" height="21.2" fill="#eef53f"/>
<rect x="1293" y="454.2" width="1" height="20.5" fill="#2ba83a"/>
<rect x="1288" y="457.2" width="11" height="8.8" fill="#2ba83a"/>
<rect x="1307" y="432.8" width="1" height="37.4" fill="#eef53f"/>
<rect x="1302" y="439.8" width="11" height="24.9" fill="#eef53f"/>
<rect x="1321" y="435.3" width="1" height="38.9" fill="#2ba83a"/>
<rect x="1316" y="437.8" width="11" height="17.7" fill="#2ba83a"/>
<rect x="1336" y="453.5" width="1" height="24.9" fill="#2ba83a"/>
<rect x="1331" y="457.2" width="11" height="15.5" fill="#2ba83a"/>
<rect x="1350" y="446.8" width="1" height="37.8" fill="#eef53f"/>
<rect x="1345" y="454.0" width="11" height="17.7" fill="#eef53f"/>
<rect x="1364" y="447.3" width="1" height="23.7" fill="#2ba83a"/>
<rect x="1359" y="453.0" width="11" height="13.7" fill="#2ba83a"/>
<rect x="1378" y="416.1" width="1" height="52.3" fill="#eef53f"/>
<rect x="1373" y="426.1" width="11" height="41.1" fill="#eef53f"/>
<rect x="1392" y="395.3" width="1" height="34.4" fill="#eef53f"/>
<rect x="1387" y="408.0" width="11" height="17.9" fill="#eef53f"/>
<rect x="1406" y="386.0" width="1" height="35.0" fill="#2ba83a"/>
<rect x="1401" y="408.0" width="11" height="6.7" fill="#2ba83a"/>
<rect x="1420" y="400.3" width="1" height="23.1" fill="#eef53f"/>
<rect x="1415" y="404.0" width="11" height="12.0" fill="#eef53f"/>
<rect x="1434" y="374.3" width="1" height="31.7" fill="#eef53f"/>
<rect x="1429" y="381.8" width="11" height="22.2" fill="#eef53f"/>
<rect x="1448" y="376.0" width="1" height="28.2" fill="#2ba83a"/>
<rect x="1443" y="381.0" width="11" height="15.8" fill="#2ba83a"/>
<rect x="1462" y="376.8" width="1" height="39.2" fill="#2ba83a"/>
<rect x="1457" y="396.0" width="11" height="10.0" fill="#2ba83a"/>
<rect x="1476" y="396.0" width="1" height="21.7" fill="#eef53f"/>
<rect x="1471" y="400.5" width="11" height="7.2" fill="#eef53f"/>
<rect x="1490" y="393.5" width="1" height="16.2" fill="#2ba83a"/>
<rect x="1485" y="400.3" width="11" height="6.4" fill="#2ba83a"/>
<rect x="1504" y="396.8" width="1" height="30.4" fill="#eef53f"/>
<rect x="1499" y="401.0" width="11" height="5.7" fill="#eef53f"/>
<rect x="1518" y="386.0" width="1" height="49.9" fill="#2ba83a"/>
<rect x="1513" y="399.0" width="11" height="15.0" fill="#2ba83a"/>
<rect x="1532" y="410.0" width="1" height="10.5" fill="#34cc36"/>
<rect x="1527" y="413.0" width="11" height="6.8" fill="#34cc36"/>
<polyline points="-12.8,150.9 1.2,144.7 15.3,138.5 29.3,135.2 43.4,143.7 57.5,149.9 71.5,173.8 85.6,204.1 99.6,204.1 113.7,204.7 127.7,207.4 141.8,213.1 155.8,222.6 169.8,233.5 183.9,239.8 198.0,242.1 212.0,235.6 226.1,233.5 240.1,226.1 254.2,223.7 268.2,219.8 282.2,215.0 296.3,217.4 310.3,227.0 324.4,223.3 338.4,218.1 352.5,193.5 366.6,172.0 380.6,163.6 394.6,157.6 408.7,158.2 422.8,158.8 436.8,160.0 450.9,162.7 464.9,162.0 478.9,158.7 493.0,158.6 507.1,158.9 521.1,159.3 535.1,159.0 549.2,159.5 563.2,160.7 577.3,161.3 591.4,162.4 605.4,166.2 619.5,170.7 633.5,191.1 647.5,221.5 661.6,242.2 675.6,257.2 689.7,255.5 703.8,255.7 717.8,257.5 731.9,257.7 745.9,258.2 760.0,258.1 774.0,257.6 788.1,253.7 802.1,253.5 816.1,256.2 830.2,258.5 844.2,264.4 858.3,269.7 872.4,273.9 886.4,274.8 900.5,270.9 914.5,272.7 928.6,275.1 942.6,273.2 956.6,265.1 970.7,263.5 984.8,265.4 998.8,277.1 1012.9,293.3 1026.9,306.3 1041.0,321.2 1055.0,336.3 1069.1,345.4 1083.1,350.0 1097.2,355.4 1111.2,362.5 1125.3,379.9 1139.3,400.1 1153.4,425.3 1167.4,437.0 1181.5,437.4 1195.5,437.6 1209.6,436.2 1223.6,436.1 1237.7,436.3 1251.7,435.7 1265.8,441.2 1279.8,438.8 1293.9,437.6 1307.9,432.1 1322.0,430.0 1336.0,429.9 1350.1,428.1 1364.1,429.5 1378.2,422.8 1392.2,413.5 1406.3,406.2 1420.3,396.8 1434.4,383.6 1448.4,375.4 1462.5,369.7 1476.5,365.2 1490.6,370.0 1504.6,370.6 1518.7,370.2 1532.7,370.2" fill="none" stroke="#c0472c" stroke-width="1.2" stroke-linejoin="round"/>
<polyline points="-12.8,353.7 1.2,374.3 15.3,394.9 29.3,416.4 43.4,423.8 57.5,426.3 71.5,418.4 85.6,406.0 99.6,405.8 113.7,405.8 127.7,406.3 141.8,406.8 155.8,405.2 169.8,403.4 183.9,400.6 198.0,399.8 212.0,402.9 226.1,404.2 240.1,405.5 254.2,399.5 268.2,395.2 282.2,389.3 296.3,374.1 310.3,349.5 324.4,341.4 338.4,337.1 352.5,346.6 366.6,351.5 380.6,351.5 394.6,351.1 408.7,349.4 422.8,347.9 436.8,344.6 450.9,339.2 464.9,341.1 478.9,350.0 493.0,357.2 507.1,363.1 521.1,363.5 535.1,362.3 549.2,364.5 563.2,366.8 577.3,369.5 591.4,373.4 605.4,377.4 619.5,379.8 633.5,371.5 647.5,357.8 661.6,349.8 675.6,352.6 689.7,359.3 703.8,360.9 717.8,361.6 731.9,361.8 745.9,364.2 760.0,364.7 774.0,367.9 788.1,378.5 802.1,392.9 816.1,404.3 830.2,412.5 844.2,413.5 858.3,415.0 872.4,416.5 886.4,426.3 900.5,447.1 914.5,465.6 928.6,478.1 942.6,498.2 956.6,520.8 970.7,539.3 984.8,559.2 998.8,565.8 1012.9,567.0 1026.9,569.3 1041.0,569.0 1055.0,566.9 1069.1,567.1 1083.1,567.2 1097.2,567.6 1111.2,566.3 1125.3,559.3 1139.3,550.9 1153.4,536.4 1167.4,531.1 1181.5,531.1 1195.5,532.7 1209.6,542.1 1223.6,542.7 1237.7,537.9 1251.7,533.4 1265.8,521.3 1279.8,519.7 1293.9,519.3 1307.9,520.0 1322.0,519.6 1336.0,519.5 1350.1,519.4 1364.1,519.3 1378.2,521.9 1392.2,526.6 1406.3,529.1 1420.3,530.7 1434.4,535.1 1448.4,534.9 1462.5,533.8 1476.5,528.1 1490.6,509.6 1504.6,498.1 1518.7,491.9 1532.7,487.1" fill="none" stroke="#8c42e8" stroke-width="1.3" stroke-linejoin="round"/>
<polyline points="-12.8,274.6 1.2,291.3 15.3,308.0 29.3,324.6 43.4,335.2 57.5,341.3 71.5,344.9 85.6,349.2 99.6,346.1 113.7,336.8 127.7,331.9 141.8,327.6 155.8,319.8 169.8,312.3 183.9,306.5 198.0,301.5 212.0,294.9 226.1,288.4 240.1,286.3 254.2,287.9 268.2,283.1 282.2,276.7 296.3,271.7 310.3,264.2 324.4,258.2 338.4,253.7 352.5,245.2 366.6,235.1 380.6,228.8 394.6,220.8 408.7,224.5 422.8,230.1 436.8,232.9 450.9,237.7 464.9,244.9 478.9,255.0 493.0,270.6 507.1,286.9 521.1,294.0 535.1,300.5 549.2,299.4 563.2,297.4 577.3,298.0 591.4,298.1 605.4,298.7 619.5,295.5 633.5,292.0 647.5,292.3 661.6,298.0 675.6,309.3 689.7,315.4 703.8,319.2 717.8,321.1 731.9,321.3 745.9,323.7 760.0,327.3 774.0,333.5 788.1,339.9 802.1,348.5 816.1,351.2 830.2,355.6 844.2,358.7 858.3,363.6 872.4,369.1 886.4,377.4 900.5,390.8 914.5,404.9 928.6,413.3 942.6,422.9 956.6,434.7 970.7,447.2 984.8,465.9 998.8,479.3 1012.9,491.1 1026.9,498.2 1041.0,499.3 1055.0,498.3 1069.1,499.3 1083.1,494.2 1097.2,488.3 1111.2,481.6 1125.3,473.4 1139.3,471.7 1153.4,470.6 1167.4,469.9 1181.5,469.2 1195.5,472.0 1209.6,479.0 1223.6,484.6 1237.7,485.9 1251.7,487.4 1265.8,489.1 1279.8,486.8 1293.9,486.3 1307.9,482.2 1322.0,480.4 1336.0,477.4 1350.1,468.4 1364.1,464.1 1378.2,458.8 1392.2,452.7 1406.3,446.1 1420.3,440.8 1434.4,432.3 1448.4,428.0 1462.5,423.1 1476.5,415.9 1490.6,411.1 1504.6,404.6 1518.7,403.4 1532.7,404.5" fill="none" stroke="#e81ce8" stroke-width="1.3" stroke-linejoin="round"/>
<polyline points="-12.8,306.8 1.2,330.6 15.3,354.4 29.3,375.4 43.4,374.0 57.5,366.9 71.5,357.0 85.6,341.8 99.6,316.2 113.7,299.7 127.7,296.9 141.8,298.3 155.8,297.7 169.8,308.3 183.9,313.2 198.0,306.0 212.0,291.4 226.1,279.2 240.1,264.3 254.2,262.6 268.2,260.1 282.2,262.0 296.3,264.3 310.3,264.0 324.4,253.8 338.4,247.3 352.5,228.5 366.6,205.9 380.6,193.6 394.6,187.7 408.7,201.8 422.8,231.6 436.8,259.9 450.9,281.9 464.9,302.1 478.9,308.2 493.0,309.7 507.1,314.0 521.1,306.1 535.1,298.9 549.2,290.7 563.2,285.2 577.3,281.9 591.4,290.2 605.4,298.6 619.5,300.3 633.5,298.9 647.5,302.7 661.6,305.8 675.6,320.0 689.7,330.5 703.8,339.6 717.8,339.5 731.9,336.8 745.9,327.4 760.0,324.0 774.0,327.4 788.1,340.3 802.1,360.1 816.1,375.0 830.2,387.1 844.2,390.1 858.3,386.9 872.4,378.1 886.4,379.8 900.5,394.5 914.5,419.6 928.6,439.7 942.6,467.8 956.6,489.6 970.7,499.9 984.8,512.1 998.8,518.9 1012.9,514.4 1026.9,506.8 1041.0,498.8 1055.0,484.5 1069.1,479.7 1083.1,474.1 1097.2,469.8 1111.2,464.5 1125.3,462.2 1139.3,463.8 1153.4,467.1 1167.4,470.0 1181.5,473.9 1195.5,481.8 1209.6,494.3 1223.6,502.2 1237.7,501.8 1251.7,501.0 1265.8,496.5 1279.8,479.3 1293.9,470.5 1307.9,462.6 1322.0,459.9 1336.0,458.4 1350.1,457.6 1364.1,457.7 1378.2,455.0 1392.2,445.5 1406.3,433.9 1420.3,423.9 1434.4,406.9 1448.4,401.1 1462.5,400.7 1476.5,397.8 1490.6,398.4 1504.6,402.2 1518.7,405.6 1532.7,408.4" fill="none" stroke="#f07e0c" stroke-width="1.3" stroke-linejoin="round"/>
<polyline points="-12.8,252.3 1.2,259.5 15.3,266.7 29.3,275.8 43.4,283.8 57.5,288.1 71.5,296.1 85.6,304.9 99.6,304.9 113.7,305.2 127.7,307.1 141.8,310.3 155.8,313.7 169.8,317.1 183.9,320.0 198.0,320.8 212.0,319.8 226.1,318.5 240.1,315.0 254.2,310.8 268.2,307.5 282.2,302.2 296.3,295.7 310.3,288.2 324.4,282.3 338.4,277.6 352.5,270.1 366.6,261.8 380.6,257.6 394.6,254.3 408.7,253.8 422.8,253.4 436.8,252.3 450.9,250.9 464.9,251.6 478.9,254.3 493.0,257.9 507.1,261.0 521.1,261.4 535.1,260.6 549.2,262.0 563.2,263.7 577.3,265.4 591.4,267.9 605.4,271.8 619.5,275.2 633.5,281.3 647.5,289.6 661.6,296.0 675.6,304.9 689.7,307.4 703.8,308.3 717.8,309.5 731.9,309.7 745.9,311.2 760.0,311.4 774.0,312.8 788.1,316.1 802.1,323.2 816.1,330.2 830.2,335.5 844.2,339.0 858.3,342.3 872.4,345.2 886.4,350.5 900.5,359.0 914.5,369.2 928.6,376.6 942.6,385.7 956.6,393.0 970.7,401.4 984.8,412.3 998.8,421.4 1012.9,430.1 1026.9,437.8 1041.0,445.1 1055.0,451.6 1069.1,456.3 1083.1,458.6 1097.2,461.5 1111.2,464.4 1125.3,469.6 1139.3,475.5 1153.4,480.9 1167.4,484.1 1181.5,484.2 1195.5,485.2 1209.6,489.2 1223.6,489.4 1237.7,487.1 1251.7,484.5 1265.8,481.3 1279.8,479.2 1293.9,478.4 1307.9,476.1 1322.0,474.8 1336.0,474.7 1350.1,473.7 1364.1,474.4 1378.2,472.4 1392.2,470.1 1406.3,467.6 1420.3,463.8 1434.4,459.3 1448.4,455.1 1462.5,451.8 1476.5,446.6 1490.6,439.8 1504.6,434.3 1518.7,431.1 1532.7,428.6" fill="none" stroke="#3190ec" stroke-width="1.5" stroke-linejoin="round"/>
<rect x="-2" y="780" width="7" height="37.7" fill="#2ba83a"/>
<rect x="12" y="780" width="7" height="41.8" fill="#2ba83a"/>
<rect x="26" y="780" width="7" height="44.5" fill="#2ba83a"/>
<rect x="40" y="780" width="7" height="32.2" fill="#2ba83a"/>
<rect x="54" y="780" width="7" height="17.5" fill="#2ba83a"/>
<rect x="68" y="780" width="7" height="3.6" fill="#2ba83a"/>
<rect x="82" y="774.8" width="7" height="5.2" fill="#eef53f"/>
<rect x="96" y="761.8" width="7" height="18.2" fill="#eef53f"/>
<rect x="110" y="751.4" width="7" height="28.6" fill="#eef53f"/>
<rect x="124" y="754.3" width="7" height="25.7" fill="#eef53f"/>
<rect x="138" y="757.9" width="7" height="22.1" fill="#eef53f"/>
<rect x="152" y="759.7" width="7" height="20.3" fill="#eef53f"/>
<rect x="166" y="764.9" width="7" height="15.1" fill="#eef53f"/>
<rect x="180" y="760.8" width="7" height="19.2" fill="#eef53f"/>
<rect x="194" y="755.8" width="7" height="24.2" fill="#eef53f"/>
<rect x="209" y="747.5" width="7" height="32.5" fill="#eef53f"/>
<rect x="223" y="744.9" width="7" height="35.1" fill="#eef53f"/>
<rect x="237" y="746.0" width="7" height="34.0" fill="#eef53f"/>
<rect x="251" y="753.1" width="7" height="26.9" fill="#eef53f"/>
<rect x="265" y="755.1" width="7" height="24.9" fill="#eef53f"/>
<rect x="279" y="755.7" width="7" height="24.3" fill="#eef53f"/>
<rect x="293" y="759.1" width="7" height="20.9" fill="#eef53f"/>
<rect x="307" y="761.0" width="7" height="19.0" fill="#eef53f"/>
<rect x="321" y="758.6" width="7" height="21.4" fill="#eef53f"/>
<rect x="335" y="758.2" width="7" height="21.8" fill="#eef53f"/>
<rect x="349" y="745.7" width="7" height="34.3" fill="#eef53f"/>
<rect x="363" y="737.9" width="7" height="42.1" fill="#eef53f"/>
<rect x="377" y="744.2" width="7" height="35.8" fill="#eef53f"/>
<rect x="391" y="751.8" width="7" height="28.2" fill="#eef53f"/>
<rect x="405" y="777.4" width="7" height="2.6" fill="#eef53f"/>
<rect x="419" y="780" width="7" height="15.5" fill="#2ba83a"/>
<rect x="433" y="780" width="7" height="23.0" fill="#2ba83a"/>
<rect x="447" y="780" width="7" height="29.5" fill="#2ba83a"/>
<rect x="461" y="780" width="7" height="32.2" fill="#2ba83a"/>
<rect x="475" y="780" width="7" height="37.7" fill="#2ba83a"/>
<rect x="490" y="780" width="7" height="36.5" fill="#2ba83a"/>
<rect x="504" y="780" width="7" height="33.2" fill="#2ba83a"/>
<rect x="518" y="780" width="7" height="20.3" fill="#2ba83a"/>
<rect x="532" y="780" width="7" height="11.6" fill="#2ba83a"/>
<rect x="546" y="780" width="7" height="9.8" fill="#2ba83a"/>
<rect x="560" y="780" width="7" height="7.8" fill="#2ba83a"/>
<rect x="574" y="780" width="7" height="7.4" fill="#2ba83a"/>
<rect x="588" y="780" width="7" height="8.6" fill="#2ba83a"/>
<rect x="602" y="780" width="7" height="9.3" fill="#2ba83a"/>
<rect x="616" y="780" width="7" height="7.2" fill="#2ba83a"/>
<rect x="630" y="780" width="7" height="1.9" fill="#2ba83a"/>
<rect x="644" y="780" width="7" height="4.7" fill="#2ba83a"/>
<rect x="658" y="780" width="7" height="7.3" fill="#2ba83a"/>
<rect x="672" y="780" width="7" height="19.4" fill="#2ba83a"/>
<rect x="686" y="780" width="7" height="20.3" fill="#2ba83a"/>
<rect x="700" y="780" width="7" height="14.8" fill="#2ba83a"/>
<rect x="714" y="780" width="7" height="7.9" fill="#2ba83a"/>
<rect x="728" y="780" width="7" height="1.6" fill="#2ba83a"/>
<rect x="742" y="780" width="7" height="1.9" fill="#2ba83a"/>
<rect x="756" y="780" width="7" height="1.9" fill="#2ba83a"/>
<rect x="770" y="780" width="7" height="3.2" fill="#2ba83a"/>
<rect x="785" y="780" width="7" height="10.2" fill="#2ba83a"/>
<rect x="799" y="780" width="7" height="19.0" fill="#2ba83a"/>
<rect x="813" y="780" width="7" height="23.1" fill="#2ba83a"/>
<rect x="827" y="780" width="7" height="21.6" fill="#2ba83a"/>
<rect x="841" y="780" width="7" height="12.0" fill="#2ba83a"/>
<rect x="855" y="780" width="7" height="5.7" fill="#2ba83a"/>
<rect x="869" y="780" width="7" height="0.8" fill="#2ba83a"/>
<rect x="883" y="780" width="7" height="7.2" fill="#2ba83a"/>
<rect x="897" y="780" width="7" height="20.3" fill="#2ba83a"/>
<rect x="911" y="780" width="7" height="29.7" fill="#2ba83a"/>
<rect x="925" y="780" width="7" height="29.3" fill="#2ba83a"/>
<rect x="939" y="780" width="7" height="34.5" fill="#2ba83a"/>
<rect x="953" y="780" width="7" height="39.0" fill="#2ba83a"/>
<rect x="967" y="780" width="7" height="38.0" fill="#2ba83a"/>
<rect x="981" y="780" width="7" height="39.0" fill="#2ba83a"/>
<rect x="995" y="780" width="7" height="27.4" fill="#2ba83a"/>
<rect x="1009" y="780" width="7" height="14.5" fill="#2ba83a"/>
<rect x="1023" y="780" width="7" height="5.5" fill="#2ba83a"/>
<rect x="1037" y="777.0" width="7" height="3.0" fill="#eef53f"/>
<rect x="1052" y="769.4" width="7" height="10.6" fill="#eef53f"/>
<rect x="1066" y="763.8" width="7" height="16.2" fill="#eef53f"/>
<rect x="1080" y="756.3" width="7" height="23.7" fill="#eef53f"/>
<rect x="1094" y="754.0" width="7" height="26.0" fill="#eef53f"/>
<rect x="1108" y="750.6" width="7" height="29.4" fill="#eef53f"/>
<rect x="1122" y="750.7" width="7" height="29.3" fill="#eef53f"/>
<rect x="1136" y="754.9" width="7" height="25.1" fill="#eef53f"/>
<rect x="1150" y="755.8" width="7" height="24.2" fill="#eef53f"/>
<rect x="1164" y="758.9" width="7" height="21.1" fill="#eef53f"/>
<rect x="1178" y="759.7" width="7" height="20.3" fill="#eef53f"/>
<rect x="1192" y="766.1" width="7" height="13.9" fill="#eef53f"/>
<rect x="1206" y="778.1" width="7" height="1.9" fill="#eef53f"/>
<rect x="1220" y="778.5" width="7" height="1.5" fill="#eef53f"/>
<rect x="1234" y="772.3" width="7" height="7.7" fill="#eef53f"/>
<rect x="1248" y="766.3" width="7" height="13.7" fill="#eef53f"/>
<rect x="1262" y="764.7" width="7" height="15.3" fill="#eef53f"/>
<rect x="1276" y="759.7" width="7" height="20.3" fill="#eef53f"/>
<rect x="1290" y="758.6" width="7" height="21.4" fill="#eef53f"/>
<rect x="1304" y="753.5" width="7" height="26.5" fill="#eef53f"/>
<rect x="1318" y="754.3" width="7" height="25.7" fill="#eef53f"/>
<rect x="1333" y="759.0" width="7" height="21.0" fill="#eef53f"/>
<rect x="1347" y="759.2" width="7" height="20.8" fill="#eef53f"/>
<rect x="1361" y="762.5" width="7" height="17.5" fill="#eef53f"/>
<rect x="1375" y="757.5" width="7" height="22.5" fill="#eef53f"/>
<rect x="1389" y="752.0" width="7" height="28.0" fill="#eef53f"/>
<rect x="1403" y="751.1" width="7" height="28.9" fill="#eef53f"/>
<rect x="1417" y="750.0" width="7" height="30.0" fill="#eef53f"/>
<rect x="1431" y="746.6" width="7" height="33.4" fill="#eef53f"/>
<rect x="1445" y="749.2" width="7" height="30.8" fill="#eef53f"/>
<rect x="1459" y="754.3" width="7" height="25.7" fill="#eef53f"/>
<rect x="1473" y="758.1" width="7" height="21.9" fill="#eef53f"/>
<rect x="1487" y="763.0" width="7" height="17.0" fill="#eef53f"/>
<rect x="1501" y="766.2" width="7" height="13.8" fill="#eef53f"/>
<rect x="1515" y="771.7" width="7" height="8.3" fill="#eef53f"/>
<rect x="1529" y="777.0" width="7" height="3.0" fill="#eef53f"/>
<polyline points="-12.8,820.9 1.2,828.2 15.3,835.5 29.3,842.4 43.4,840.3 57.5,835.1 71.5,828.7 85.6,823.6 99.6,814.8 113.7,806.1 127.7,804.3 141.8,803.3 155.8,801.7 169.8,802.4 183.9,798.0 198.0,792.4 212.0,784.2 226.1,778.5 240.1,774.8 254.2,775.0 268.2,772.9 282.2,770.2 296.3,769.2 310.3,767.8 324.4,763.9 338.4,761.0 352.5,750.5 366.6,741.3 380.6,740.0 394.6,740.3 408.7,752.7 422.8,763.7 436.8,770.3 450.9,777.3 464.9,782.6 478.9,790.1 493.0,794.1 507.1,796.6 521.1,792.7 535.1,789.8 549.2,790.1 563.2,790.1 577.3,790.8 591.4,792.5 605.4,794.0 619.5,793.8 633.5,791.4 647.5,793.4 661.6,795.6 675.6,804.1 689.7,807.1 703.8,806.2 717.8,803.7 731.9,800.7 745.9,801.2 760.0,801.4 774.0,802.4 788.1,807.2 802.1,814.0 816.1,818.9 830.2,820.9 844.2,817.6 858.3,815.1 872.4,812.8 886.4,816.9 900.5,826.0 914.5,834.4 928.6,837.9 942.6,844.8 956.6,851.9 970.7,856.2 984.8,861.6 998.8,859.2 1012.9,854.5 1026.9,850.7 1041.0,846.1 1055.0,840.9 1069.1,836.2 1083.1,829.4 1097.2,825.1 1111.2,819.6 1125.3,816.0 1139.3,815.0 1153.4,812.4 1167.4,811.3 1181.5,809.2 1195.5,810.7 1209.6,816.4 1223.6,816.4 1237.7,812.4 1251.7,807.6 1265.8,804.9 1279.8,799.9 1293.9,796.7 1307.9,790.8 1322.0,788.0 1336.0,787.7 1350.1,785.2 1364.1,784.7 1378.2,779.4 1392.2,773.1 1406.3,769.1 1420.3,764.7 1434.4,758.9 1448.4,756.3 1462.5,755.7 1476.5,754.8 1490.6,755.1 1504.6,755.0 1518.7,756.7 1532.7,759.0" fill="none" stroke="#d4492c" stroke-width="1.2"/>
<polyline points="-12.8,804.2 1.2,809.4 15.3,814.6 29.3,820.2 43.4,824.2 57.5,826.4 71.5,826.8 85.6,826.2 99.6,823.9 113.7,820.3 127.7,817.1 141.8,814.4 155.8,811.8 169.8,809.9 183.9,807.5 198.0,804.5 212.0,800.5 226.1,796.1 240.1,791.8 254.2,788.5 268.2,785.3 282.2,782.3 296.3,779.7 310.3,777.3 324.4,774.6 338.4,771.9 352.5,767.6 366.6,762.4 380.6,757.9 394.6,754.4 408.7,754.0 422.8,756.0 436.8,758.8 450.9,762.5 464.9,766.6 478.9,771.3 493.0,775.8 507.1,780.0 521.1,782.5 535.1,784.0 549.2,785.2 563.2,786.2 577.3,787.1 591.4,788.2 605.4,789.3 619.5,790.2 633.5,790.5 647.5,791.0 661.6,792.0 675.6,794.4 689.7,796.9 703.8,798.8 717.8,799.8 731.9,800.0 745.9,800.2 760.0,800.4 774.0,800.8 788.1,802.1 802.1,804.5 816.1,807.4 830.2,810.1 844.2,811.6 858.3,812.3 872.4,812.4 886.4,813.3 900.5,815.8 914.5,819.6 928.6,823.2 942.6,827.5 956.6,832.4 970.7,837.2 984.8,842.0 998.8,845.5 1012.9,847.3 1026.9,848.0 1041.0,847.6 1055.0,846.3 1069.1,844.2 1083.1,841.3 1097.2,838.0 1111.2,834.4 1125.3,830.7 1139.3,827.5 1153.4,824.5 1167.4,821.9 1181.5,819.4 1195.5,817.6 1209.6,817.4 1223.6,817.2 1237.7,816.2 1251.7,814.5 1265.8,812.6 1279.8,810.1 1293.9,807.4 1307.9,804.1 1322.0,800.9 1336.0,798.2 1350.1,795.6 1364.1,793.4 1378.2,790.6 1392.2,787.1 1406.3,783.5 1420.3,779.8 1434.4,775.6 1448.4,771.7 1462.5,768.5 1476.5,765.8 1490.6,763.7 1504.6,761.9 1518.7,760.9 1532.7,760.5" fill="none" stroke="#3b7de8" stroke-width="1.2"/>
<line x1="44.5" y1="0" x2="44.5" y2="839" stroke="#72788a" stroke-width="1"/>
<polygon points="850,430.0 1605,431.2 1605,434.2 968,432.7 940,431.5 850,431.3" fill="#ffffff"/>
<polygon points="1604,427.5 1614,432.8 1604,438" fill="#ffffff"/>
<ellipse cx="923.2" cy="436.2" rx="31.0" ry="24.0" fill="none" stroke="#ffffff" stroke-width="2.6"/>
<ellipse cx="1103.0" cy="440.3" rx="50.0" ry="21.2" fill="none" stroke="#ffffff" stroke-width="2.6"/>
<ellipse cx="1313.8" cy="435.1" rx="35.4" ry="14.4" fill="none" stroke="#ffffff" stroke-width="2.6"/>
<ellipse cx="1518.1" cy="435.9" rx="57.7" ry="14.3" fill="none" stroke="#ffffff" stroke-width="2.6"/>
<line x1="1525" y1="425.8" x2="1568" y2="356" stroke="#ffffff" stroke-width="2.4"/>
<polygon points="1573.2,348.6 1564.2,354.2 1571.6,359.4" fill="#ffffff"/>
<path d="M1532,431.5 a5.5,4 0 0 1 11,0 z" fill="#ffffff"/>
<rect x="347" y="97" width="67" height="26" rx="3" fill="#28324b"/>
<polygon points="372,122.5 389,122.5 380.5,132" fill="#28324b"/>
<rect x="951" y="567" width="67" height="26" rx="3" fill="#28324b"/>
<polygon points="976.5,567.5 993,567.5 984.5,559" fill="#28324b"/>
<circle cx="810.9" cy="660.9" r="11.6" fill="none" stroke="#9a9eab" stroke-width="1"/>
<circle cx="845.8" cy="660.9" r="11.6" fill="none" stroke="#9a9eab" stroke-width="1"/>
<circle cx="880.9" cy="660.9" r="11.6" fill="none" stroke="#9a9eab" stroke-width="1"/>
<circle cx="915.9" cy="660.9" r="11.6" fill="none" stroke="#9a9eab" stroke-width="1"/>
<rect x="806" y="660" width="10" height="2" fill="#b9bdc8"/>
<rect x="910.9" y="660" width="10" height="2" fill="#b9bdc8"/>
<rect x="915" y="656" width="2" height="10" fill="#b9bdc8"/>
<rect x="842" y="656.8" width="1.8" height="8.3" fill="#b9bdc8"/>
<polygon points="850.2,656.8 844,661 850.2,665.2" fill="#b9bdc8"/>
<rect x="883.4" y="656.8" width="1.8" height="8.3" fill="#b9bdc8"/>
<polygon points="876.8,656.8 883,661 876.8,665.2" fill="#b9bdc8"/>
<polygon points="31.1,711.0 27.5,717.3 20.2,717.3 16.5,711.0 20.1,704.7 27.5,704.7" fill="none" stroke="#8a8f9d" stroke-width="1.1"/>
<circle cx="23.8" cy="711.0" r="2.4" fill="none" stroke="#8a8f9d" stroke-width="1.1"/>
<text x="6.2" y="20.2" font-size="19" fill="#ffffff" font-weight="500">现货黄金</text>
<text x="6.2" y="34.9" font-size="12" fill="#7c8193" textLength="51.7" lengthAdjust="spacing">XAUUSD</text>
<text x="115.1" y="17.6" font-size="16.1" fill="#2ec13f" textLength="62.3" lengthAdjust="spacing">1768.77</text>
<text x="114.2" y="34.9" font-size="12.3" fill="#2ec13f" textLength="34.6" lengthAdjust="spacing">−2.92</text>
<text x="161.3" y="34.9" font-size="12.3" fill="#2ec13f" textLength="46.7" lengthAdjust="spacing">−0.16%</text>
<text x="219.5" y="15.4" font-size="12.5" fill="#999dab">最高</text>
<text x="256.1" y="14.9" font-size="12.2" fill="#e9493a" textLength="49.6" lengthAdjust="spacing">1773.53</text>
<text x="316.6" y="15.4" font-size="12.5" fill="#999dab">开盘</text>
<text x="353.1" y="14.9" font-size="12.2" fill="#e9493a" textLength="49.6" lengthAdjust="spacing">1772.70</text>
<text x="219.5" y="35.2" font-size="12.5" fill="#999dab">最低</text>
<text x="256.1" y="34.7" font-size="12.2" fill="#2ec13f" textLength="49.6" lengthAdjust="spacing">1764.13</text>
<text x="316.6" y="35.2" font-size="12.5" fill="#999dab">昨收</text>
<text x="353.1" y="34.7" font-size="12.2" fill="#ffffff" textLength="49.6" lengthAdjust="spacing">1771.69</text>
<text x="0.6" y="77.6" font-size="12.4" fill="#ef8a12" text-anchor="end">MA</text>
<text x="1.6" y="77.6" font-size="12.4" fill="#f58a14" textLength="60.6" lengthAdjust="spacing">5:1798.55</text>
<text x="73.6" y="77.6" font-size="12.4" fill="#f010f2" textLength="90.8" lengthAdjust="spacing">MA10:1824.58</text>
<text x="174.8" y="77.6" font-size="12.4" fill="#18d6ec" textLength="89.7" lengthAdjust="spacing">MA20:1859.10</text>
<text x="42.2" y="95.5" font-size="12.4" fill="#e84a2c" text-anchor="end" textLength="64.0" lengthAdjust="spacing">U:1953.09</text>
<text x="53.5" y="95.5" font-size="12.4" fill="#3b8af5" textLength="64.9" lengthAdjust="spacing">M:1859.10</text>
<text x="129.6" y="95.5" font-size="12.4" fill="#a448fa" textLength="59.8" lengthAdjust="spacing">L:1765.11</text>
<text x="354.8" y="115.1" font-size="12.7" fill="#ffffff" textLength="50.9" lengthAdjust="spacing">1959.16</text>
<text x="959.0" y="585.1" font-size="12.7" fill="#ffffff" textLength="48.3" lengthAdjust="spacing">1676.71</text>
<text x="-14.5" y="583.6" font-size="12" fill="#a3a7b4">开盘</text>
<text x="15.0" y="583.0" font-size="12" fill="#a3a7b4" textLength="49.3" lengthAdjust="spacing">1776.39</text>
<text x="-14.5" y="601.6" font-size="12" fill="#a3a7b4">最高</text>
<text x="15.0" y="601.0" font-size="12" fill="#a3a7b4" textLength="49.3" lengthAdjust="spacing">1817.18</text>
<text x="-14.5" y="619.6" font-size="12" fill="#a3a7b4">最低</text>
<text x="15.0" y="619.0" font-size="12" fill="#a3a7b4" textLength="49.3" lengthAdjust="spacing">1775.65</text>
<text x="-14.5" y="637.6" font-size="12" fill="#a3a7b4">收盘</text>
<text x="15.0" y="637.0" font-size="12" fill="#a3a7b4" textLength="49.3" lengthAdjust="spacing">1814.78</text>
<text x="60.1" y="691.9" font-size="12.3" fill="#9da1ae" textLength="77.6" lengthAdjust="spacing">2020/12/07</text>
<text x="284.8" y="691.9" font-size="12.3" fill="#9da1ae" textLength="77.6" lengthAdjust="spacing">2020/12/30</text>
<text x="509.4" y="691.9" font-size="12.3" fill="#9da1ae" textLength="77.6" lengthAdjust="spacing">2021/01/22</text>
<text x="734.1" y="691.9" font-size="12.3" fill="#9da1ae" textLength="77.6" lengthAdjust="spacing">2021/02/15</text>
<text x="958.8" y="691.9" font-size="12.3" fill="#9da1ae" textLength="77.6" lengthAdjust="spacing">2021/03/09</text>
<text x="1183.5" y="691.9" font-size="12.3" fill="#9da1ae" textLength="77.6" lengthAdjust="spacing">2021/03/31</text>
<text x="1408.3" y="691.9" font-size="12.3" fill="#9da1ae" textLength="77.6" lengthAdjust="spacing">2021/04/22</text>
<rect x="0" y="678.5" width="114" height="17.5" fill="#2f3852" fill-opacity="0.92"/>
<text x="0.0" y="691.9" font-size="12.3" fill="#ffffff" textLength="73.4" lengthAdjust="spacing">2020/12/01</text>
<text x="79.0" y="692.8" font-size="12.3" fill="#ffffff">二</text>
<text x="42.3" y="715.6" font-size="12.0" fill="#e4502f" textLength="87.0" lengthAdjust="spacing">DIFF:−27.1595</text>
<text x="140.0" y="715.6" font-size="12.0" fill="#3f7ff0" textLength="87.2" lengthAdjust="spacing">DEA:−19.9115</text>
<text x="238.1" y="715.6" font-size="12.0" fill="#3f7ff0" textLength="100.2" lengthAdjust="spacing">MACD:−14.4961</text>
<rect x="0" y="706" width="1.2" height="11" fill="#8a8f9d"/>
<line x1="0" y1="93.5" x2="1614" y2="93.5" stroke="#5f6578" stroke-width="1"/>
<rect x="-2" y="4" width="3.9" height="24" rx="1.5" fill="#a9aaab"/>
<polygon points="88.9,11 96.9,11 92.9,15.6" fill="#ffffff"/>
</svg>
</body></html>
